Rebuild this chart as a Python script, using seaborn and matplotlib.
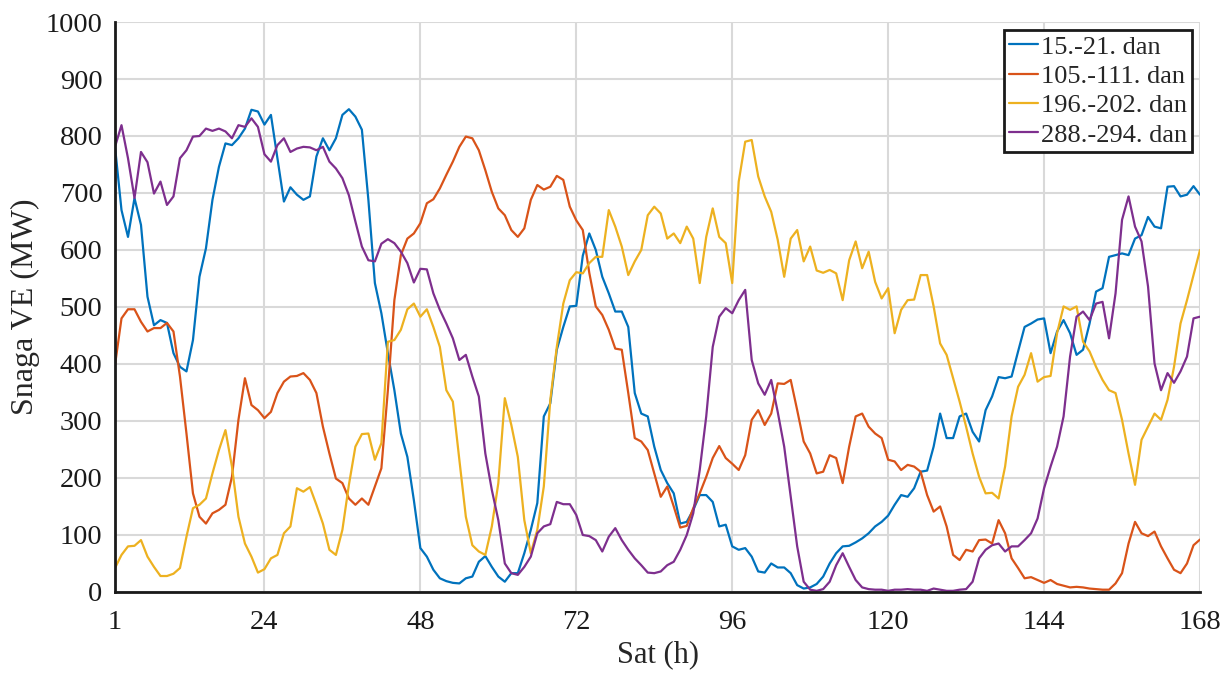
import numpy as np
import pandas as pd
import matplotlib.pyplot as plt
import seaborn as sns

# ==========================================
# DATA (hourly wind power, MW)
# ==========================================
hours = np.arange(1, 169)
labels = ['15.-21. dan', '105.-111. dan', '196.-202. dan', '288.-294. dan']
colors = ['#0072BD', '#D95319', '#EDB120', '#7E2F8E']
x_ticks = [1, 24, 48, 72, 96, 120, 144, 168]

dan_15_21 = [
    781, 670, 623, 691, 644, 518, 468, 477, 472, 419, 395, 387, 442, 553, 603, 688, 746, 787, 784, 796,
    813, 846, 843, 820, 837, 761, 685, 710, 697, 688, 694, 764, 796, 775, 796, 837, 847, 834, 811, 688,
    542, 489, 419, 354, 278, 237, 161, 77, 62, 39, 24, 19, 16, 15, 24, 27, 53, 63, 44, 27,
    18, 33, 33, 68, 109, 156, 308, 331, 425, 465, 501, 502, 590, 629, 600, 553, 524, 492, 492, 465,
    349, 313, 308, 255, 214, 191, 173, 120, 123, 144, 170, 170, 158, 115, 118, 80, 74, 77, 62, 36,
    34, 50, 43, 43, 33, 12, 6, 8, 14, 27, 50, 68, 80, 81, 87, 94, 103, 115, 123, 134,
    153, 170, 167, 182, 211, 213, 255, 313, 270, 270, 308, 313, 281, 264, 319, 343, 377, 375, 378, 422,
    465, 471, 478, 480, 419, 457, 477, 454, 416, 425, 471, 527, 533, 588, 591, 594, 591, 620, 626, 658,
    641, 638, 711, 712, 694, 697, 712, 697,
]
dan_105_111 = [
    398, 480, 496, 496, 474, 457, 463, 463, 472, 457, 378, 278, 173, 132, 120, 138, 144, 153, 202, 302,
    375, 328, 319, 305, 316, 349, 369, 378, 379, 384, 372, 349, 290, 243, 199, 191, 164, 153, 164, 153,
    185, 217, 354, 512, 591, 620, 629, 647, 682, 689, 708, 732, 755, 781, 799, 796, 775, 740, 702, 673,
    661, 635, 623, 638, 688, 714, 706, 711, 730, 723, 676, 652, 635, 560, 501, 486, 460, 427, 425, 349,
    270, 264, 249, 208, 167, 185, 150, 113, 116, 147, 173, 202, 235, 256, 235, 225, 214, 240, 302, 319,
    293, 313, 366, 365, 372, 319, 264, 243, 208, 211, 240, 235, 191, 255, 308, 313, 290, 278, 270, 232,
    229, 214, 223, 220, 211, 170, 141, 150, 115, 65, 56, 74, 71, 91, 92, 85, 126, 103, 59, 42,
    24, 26, 21, 16, 21, 14, 11, 8, 9, 8, 6, 5, 4, 4, 15, 33, 85, 123, 103, 98,
    106, 80, 59, 39, 33, 50, 82, 92,
]
dan_196_202 = [
    42, 65, 80, 81, 91, 62, 44, 28, 28, 32, 42, 97, 147, 153, 164, 208, 249, 284, 220, 132,
    85, 62, 34, 40, 59, 65, 103, 115, 182, 176, 184, 153, 120, 74, 65, 109, 188, 255, 277, 278,
    232, 261, 439, 442, 460, 496, 506, 483, 496, 465, 430, 354, 334, 232, 132, 82, 71, 65, 115, 191,
    340, 293, 237, 126, 68, 109, 185, 337, 430, 506, 547, 561, 559, 577, 588, 588, 670, 641, 606, 556,
    580, 600, 661, 676, 664, 620, 629, 612, 641, 620, 542, 623, 673, 623, 612, 542, 720, 790, 793, 729,
    694, 667, 618, 553, 620, 635, 580, 606, 564, 560, 565, 559, 512, 582, 615, 568, 597, 544, 515, 533,
    454, 495, 512, 513, 556, 556, 501, 436, 416, 375, 334, 290, 243, 202, 173, 174, 164, 220, 308, 360,
    381, 419, 369, 377, 379, 454, 501, 495, 501, 439, 422, 395, 372, 354, 349, 302, 243, 188, 267, 290,
    313, 302, 337, 395, 471, 512, 556, 600,
]
dan_288_294 = [
    781, 819, 761, 691, 772, 754, 699, 720, 679, 694, 761, 775, 799, 800, 813, 809, 813, 808, 796, 819,
    816, 831, 816, 768, 755, 784, 796, 772, 778, 781, 780, 775, 781, 755, 743, 726, 696, 650, 606, 582,
    580, 611, 619, 612, 597, 577, 543, 567, 566, 524, 495, 471, 445, 407, 416, 378, 343, 243, 179, 126,
    50, 33, 30, 44, 62, 103, 115, 119, 158, 154, 154, 135, 100, 98, 91, 71, 97, 112, 91, 74,
    59, 47, 34, 33, 36, 47, 53, 74, 100, 138, 214, 308, 430, 483, 498, 489, 512, 530, 407, 366,
    346, 372, 316, 255, 167, 80, 18, 4, 2, 5, 18, 47, 68, 44, 21, 8, 5, 4, 4, 2,
    4, 4, 5, 4, 4, 2, 6, 4, 2, 2, 4, 5, 18, 59, 74, 82, 85, 71, 80, 80,
    91, 103, 129, 182, 220, 255, 308, 413, 483, 492, 477, 506, 509, 445, 524, 653, 694, 641, 615, 536,
    401, 354, 384, 367, 387, 413, 480, 483,
]

# long-form table for seaborn
df = pd.DataFrame({
    'Sat': hours,
    labels[0]: dan_15_21,
    labels[1]: dan_105_111,
    labels[2]: dan_196_202,
    labels[3]: dan_288_294,
}).melt(id_vars='Sat', var_name='Period', value_name='Snaga')

# ==========================================
# PLOT
# ==========================================
sns.set_style("white")
plt.rcParams['font.family'] = ['Liberation Serif', 'DejaVu Serif']

fig = plt.figure(figsize=(12.26, 6.73), dpi=100)
ax = fig.add_axes([0.0938, 0.1204, 0.885, 0.8469])

sns.lineplot(data=df, x='Sat', y='Snaga', hue='Period', hue_order=labels,
             palette=colors, linewidth=1.6, ax=ax)

ax.set_xlim(1, 168)
ax.set_ylim(0, 1000)
ax.set_xticks(x_ticks)
ax.set_yticks(np.arange(0, 1001, 100))
ax.grid(True, color='#d9d9d9', linewidth=1.5)
ax.set_axisbelow(True)

for side in ['top', 'right']:
    ax.spines[side].set_visible(False)
for side in ['left', 'bottom']:
    ax.spines[side].set_color('#1a1a1a')
    ax.spines[side].set_linewidth(2.0)

ax.tick_params(direction='out', length=5, width=1.8, labelsize=20.5, colors='#1a1a1a', pad=4)
ax.tick_params(axis='x', pad=8)
ax.set_xlabel('Sat (h)', fontsize=22, labelpad=4)
ax.set_ylabel('Snaga VE (MW)', fontsize=23, labelpad=4)

leg = ax.legend(loc='upper right', fontsize=19, frameon=True, fancybox=False,
                handlelength=1.1, handletextpad=0.1, borderpad=0.2, labelspacing=0.22,
                borderaxespad=0.3)
leg.get_frame().set_edgecolor('#1a1a1a')
leg.get_frame().set_linewidth(2.0)
leg.get_frame().set_alpha(1.0)
leg.set_title(None)

fig.savefig('out.png', dpi=100)
